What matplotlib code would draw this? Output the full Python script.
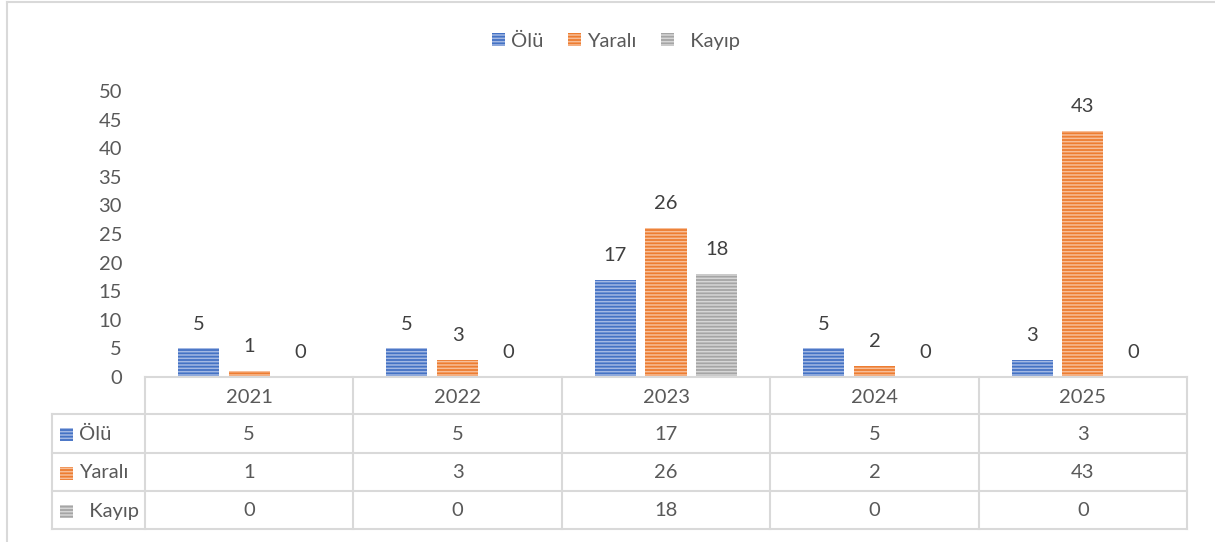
import matplotlib
matplotlib.use("Agg")
import matplotlib.pyplot as plt
from matplotlib.patches import Patch, Rectangle
from matplotlib.lines import Line2D
from matplotlib.transforms import blended_transform_factory
import numpy as np

years = ["2021", "2022", "2023", "2024", "2025"]
series_names = ["Ölü", "Yaralı", "Kayıp"]
olu = [5, 5, 17, 5, 3]
yarali = [1, 3, 26, 2, 43]
kayip = [0, 0, 18, 0, 0]
series_values = [olu, yarali, kayip]
colors = ["#4472C4", "#ED7D31", "#A5A5A5"]
stripe_colors = ["#A3B8E3", "#F7BE98", "#D6D6D6"]
yticks = list(range(0, 51, 5))

plt.rcParams["font.family"] = ["Lato", "DejaVu Sans"]
plt.rcParams["hatch.linewidth"] = 1.1
TXT = "#595959"
GRID = "#D9D9D9"
FS = 14.5

W, H = 1215, 542
fig = plt.figure(figsize=(W / 100, H / 100), dpi=100)

def px(x0, y0, x1, y1):
    return [x0 / W, 1 - y1 / H, (x1 - x0) / W, (y1 - y0) / H]

ax = fig.add_axes(px(145, 91, 1187, 377))
x = np.arange(len(years))
off = 0.243
bw = 0.197
for i, (name, vals) in enumerate(zip(series_names, series_values)):
    xs = x + (i - 1) * off
    ax.bar(xs, vals, width=bw, color=colors[i], edgecolor=stripe_colors[i],
           linewidth=0, hatch="-----", zorder=2)
    for xv, v in zip(xs, vals):
        ax.annotate(str(v), (xv, v), xytext=(0, 17.5), textcoords="offset points",
                    ha="center", va="center", fontsize=FS, color="#404040")

ax.set_xlim(-0.5, len(years) - 0.5)
ax.set_ylim(0, 50)
ax.set_yticks(yticks)
ax.set_yticklabels([str(t) for t in yticks], fontsize=FS, color=TXT)
ax.tick_params(axis="y", length=0, pad=16.5)
ax.set_xticks([])
for s in ["top", "right", "left", "bottom"]:
    ax.spines[s].set_visible(False)

# data table
tr = blended_transform_factory(ax.transData, ax.transAxes)
hpx = 286.0
def fy(ypix):
    return (377 - ypix) / hpx

row_lines = [377, 414, 453, 491, 529]
x_left_label = -0.5 - 93 / 208.4
x_right = len(years) - 0.5
lw = 1.5
ax.add_line(Line2D([-0.5, x_right], [fy(row_lines[0])] * 2, transform=tr,
                   color=GRID, lw=lw, clip_on=False))
for yl in row_lines[1:]:
    ax.add_line(Line2D([x_left_label, x_right], [fy(yl)] * 2, transform=tr,
                       color=GRID, lw=lw, clip_on=False))
for b in np.arange(-0.5, len(years), 1.0):
    ax.add_line(Line2D([b, b], [fy(row_lines[0]), fy(row_lines[-1])], transform=tr,
                       color=GRID, lw=lw, clip_on=False))
ax.add_line(Line2D([x_left_label] * 2, [fy(row_lines[1]), fy(row_lines[-1])], transform=tr,
                   color=GRID, lw=lw, clip_on=False))
yc = fy((row_lines[0] + row_lines[1]) / 2 + 2)
for xi, yr in zip(x, years):
    ax.text(xi, yc, yr, transform=tr, ha="center", va="center", fontsize=FS,
            color=TXT, clip_on=False)
for r, (name, vals) in enumerate(zip(series_names, series_values)):
    yc = fy((row_lines[r + 1] + row_lines[r + 2]) / 2 + 1)
    for xi, v in zip(x, vals):
        ax.text(xi, yc, str(v), transform=tr, ha="center", va="center",
                fontsize=FS, color=TXT, clip_on=False)
    kx0 = x_left_label + 8 / 208.4
    ky = (row_lines[r + 1] + row_lines[r + 2]) / 2 + 1
    ax.add_patch(Rectangle((kx0, fy(ky + 6.5)), 13 / 208.4, 13 / hpx, transform=tr,
                           facecolor=colors[r], edgecolor=stripe_colors[r], lw=0,
                           hatch="-----", clip_on=False))
    label = ("  " + name) if name == "Kayıp" else name
    ax.text(x_left_label + 27 / 208.4, fy(ky), label, transform=tr, ha="left",
            va="center", fontsize=FS, color=TXT, clip_on=False)

handles = [Patch(facecolor=c, edgecolor=sc, linewidth=0, hatch="-----")
           for c, sc in zip(colors, stripe_colors)]
labels = [("  " + n) if n == "Kayıp" else n for n in series_names]
fig.legend(handles, labels, loc="center", bbox_to_anchor=(616 / W, 1 - 41 / H), ncol=3,
           frameon=False, fontsize=FS, handlelength=0.62, handleheight=0.62,
           handletextpad=0.3, columnspacing=1.25, labelcolor=TXT)

fig.add_artist(Line2D([7 / W, 7 / W], [0, 1 - 1.5 / H], color=GRID, lw=1.5))
fig.add_artist(Line2D([7 / W, 1], [1 - 1.5 / H, 1 - 1.5 / H], color=GRID, lw=1.5))

fig.savefig("out.png", dpi=100)
